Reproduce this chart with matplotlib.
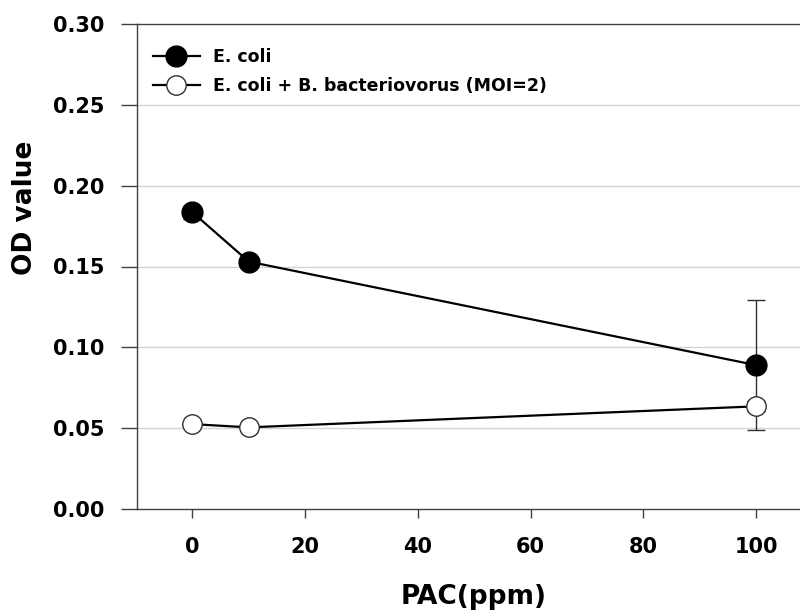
import matplotlib
matplotlib.use("Agg")
import matplotlib.pyplot as plt
from matplotlib.lines import Line2D

pac = [0, 10, 100]
ecoli = [0.1835, 0.153, 0.089]
ecoli_err = [0.004, 0.002, 0.040]
ecoli_bd = [0.0525, 0.0505, 0.0635]
ecoli_bd_err = [0.002, 0.002, 0.003]
labels = ["E. coli", "E. coli + B. bacteriovorus (MOI=2)"]
yticks = [0.00, 0.05, 0.10, 0.15, 0.20, 0.25, 0.30]
xticks = [0, 20, 40, 60, 80, 100]

plt.rcParams['font.family'] = ['DejaVu Sans']
plt.rcParams['font.weight'] = 'bold'

W, H = 800, 615
fig = plt.figure(figsize=(8, 6.15), dpi=100)
ax = fig.add_axes([136.7/W, 106/H, 1 - 136.7/W, (509-24)/H])

spine_col = '#404040'
for y in yticks[1:-1]:
    ax.axhline(y, color='#d4d4d4', lw=1, zorder=0)

style_filled = dict(color='black', lw=1.6, marker='o', markersize=15,
                    markerfacecolor='black', markeredgecolor='black')
style_open = dict(color='black', lw=1.6, marker='o', markersize=14,
                  markerfacecolor='white', markeredgecolor='#303030', markeredgewidth=1)

ax.errorbar(pac, ecoli, yerr=ecoli_err, ecolor='#303030', elinewidth=1,
            capsize=6.5, capthick=1, zorder=3, **style_filled)
ax.errorbar(pac, ecoli_bd, yerr=ecoli_bd_err, ecolor='#303030', elinewidth=1,
            capsize=6.5, capthick=1, zorder=3, **style_open)

ax.set_xlim(-9.9, 107.8)
ax.set_ylim(0, 0.30)
ax.set_yticks(yticks)
ax.set_yticklabels([f"{v:.2f}" for v in yticks])
ax.set_xticks(xticks)
ax.set_xticklabels([str(v) for v in xticks])

for s in ['left', 'bottom', 'top']:
    ax.spines[s].set_color(spine_col)
    ax.spines[s].set_linewidth(1)
ax.spines['right'].set_visible(False)

ax.tick_params(axis='y', length=11.5, width=1, color=spine_col, pad=12, labelsize=15)
ax.tick_params(axis='x', length=6.5, width=1, color=spine_col, pad=14, labelsize=15)
for t in ax.get_xticklabels() + ax.get_yticklabels():
    t.set_fontweight('bold')

fig.text(25/W, 1 - 208/H, "OD value", rotation=90, ha='center', va='center',
         fontsize=19, fontweight='bold')
fig.text(474/W, 1 - 597/H, "PAC(ppm)", ha='center', va='center',
         fontsize=19, fontweight='bold')

handles = [Line2D([], [], **style_filled), Line2D([], [], **style_open)]
ax.legend(handles, labels, loc='upper left', bbox_to_anchor=(0.014, 0.964),
          frameon=False, handlelength=2.7, handletextpad=0.75, labelspacing=0.62,
          borderaxespad=0.0, prop={'weight': 'bold', 'size': 12.5})

fig.savefig("out.png", dpi=100)
